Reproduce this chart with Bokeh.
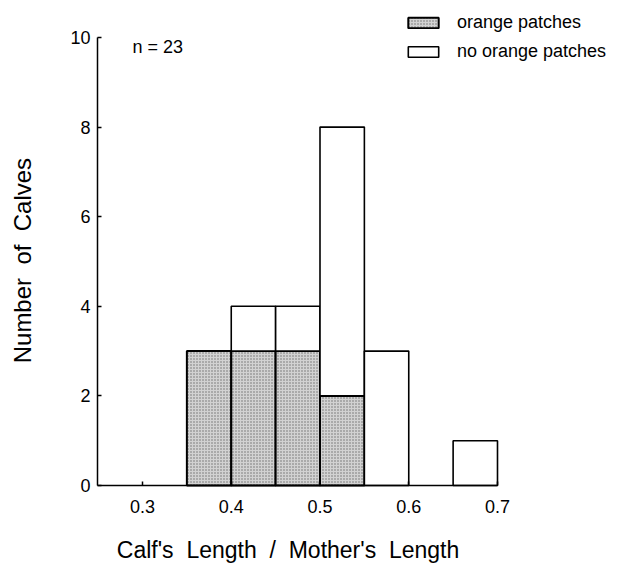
import math
from bokeh.plotting import figure
from bokeh.models import Range1d, FixedTicker, Legend, LegendItem, Label
from bokeh.embed import file_html
from bokeh.resources import INLINE

# ---- data ----
bin_left = [0.35, 0.40, 0.45, 0.50, 0.55, 0.60, 0.65]
bin_width = 0.05
orange_patches = [3, 3, 3, 2, 0, 0, 0]
no_orange_patches = [0, 1, 1, 6, 3, 0, 1]
x_ticks = [0.3, 0.4, 0.5, 0.6, 0.7]
x_tick_labels = ["0.3", "0.4", "0.5", "0.6", "0.7"]
y_ticks = [0, 2, 4, 6, 8, 10]
n_total = sum(orange_patches) + sum(no_orange_patches)

FONT = "Liberation Sans"
GAP = " \u00a0"
X0 = 0.2493  # where the x axis starts / y axis sits

p = figure(width=624, height=565, output_backend="svg", toolbar_location=None,
           x_range=Range1d(0.14, 0.8431), y_range=Range1d(-1.786, 10.826),
           min_border=0)
p.outline_line_color = None
p.grid.visible = False
p.background_fill_color = "white"

# gray (orange patches) bars
gl = [l for l, c in zip(bin_left, orange_patches) if c > 0]
gt = [c for c in orange_patches if c > 0]
g = p.quad(left=gl, right=[l + bin_width for l in gl], bottom=[0] * len(gl), top=gt,
           fill_color="#d2d2d2", line_color="black", line_width=2,
           hatch_pattern="dot", hatch_scale=3, hatch_color="#6e6e6e", hatch_weight=1)

# white (no orange patches) bars stacked on top
wl, wb, wt = [], [], []
for l, a, b in zip(bin_left, orange_patches, no_orange_patches):
    if b > 0:
        wl.append(l)
        wb.append(a)
        wt.append(a + b)
w = p.quad(left=wl, right=[l + bin_width for l in wl], bottom=wb, top=wt,
           fill_color="white", line_color="black", line_width=1.6)

# axes
for ax in (p.xaxis[0], p.yaxis[0]):
    ax.axis_line_width = 1.5
    ax.major_tick_line_width = 1.5
    ax.major_tick_in = 4
    ax.major_tick_out = 0
    ax.minor_tick_line_color = None
    ax.major_label_text_font = FONT
    ax.major_label_text_font_size = "18px"
    ax.major_label_text_color = "black"

p.xaxis.ticker = FixedTicker(ticks=x_ticks)
p.xaxis.major_label_overrides = {t: s for t, s in zip(x_ticks, x_tick_labels)}
p.xaxis.bounds = (X0, 0.7)
p.xaxis.fixed_location = 0
p.xaxis.major_label_standoff = 15

p.yaxis.ticker = FixedTicker(ticks=y_ticks)
p.yaxis.bounds = (0, 10)
p.yaxis.fixed_location = X0
p.yaxis.major_label_standoff = 7

# axis titles
p.add_layout(Label(x=0.464, y=-1.741, text=GAP.join(["Calf's", "Length", "/", "Mother's", "Length"]),
                   text_font=FONT, text_font_size="23px", text_align="center",
                   text_baseline="bottom", text_color="black"))
p.add_layout(Label(x=0.1648, y=5.02, text=GAP.join(["Number", "of", "Calves"]),
                   angle=math.pi / 2, text_font=FONT, text_font_size="24px",
                   text_align="center", text_baseline="middle", text_color="black"))

# n label
p.add_layout(Label(x=0.2887, y=9.777, text=f"n = {n_total}", text_font=FONT,
                   text_font_size="18px", text_baseline="middle", text_color="black"))

legend = Legend(items=[LegendItem(label="orange patches", renderers=[g]),
                       LegendItem(label="no orange patches", renderers=[w])],
                location=(404, 503), orientation="vertical",
                glyph_width=38, glyph_height=13, label_standoff=15,
                label_text_font=FONT, label_text_font_size="18px",
                label_text_color="black",
                label_height=20, spacing=8, padding=0, margin=0,
                border_line_color=None, background_fill_alpha=0)
p.add_layout(legend)

open("out.html", "w").write(file_html(p, INLINE))
